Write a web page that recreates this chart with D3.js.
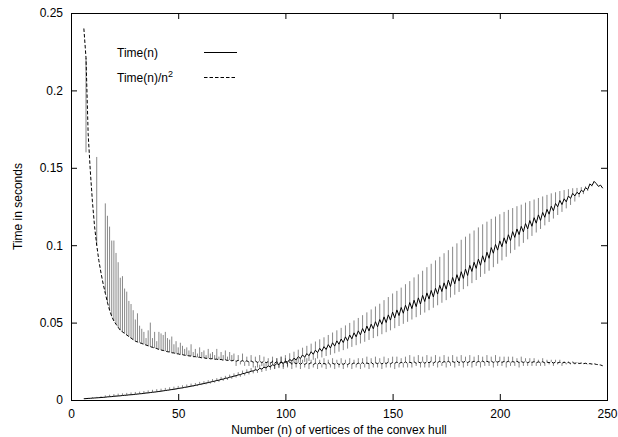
<!DOCTYPE html>
<html>
<head>
<meta charset="utf-8">
<script src="https://cdn.jsdelivr.net/npm/d3@7"></script>
<style>
  body { margin: 0; background: #fff; }
  svg { display: block; font-family: "Liberation Sans", Arial, Helvetica, sans-serif; }
  .axis-title, .legend-text { font-size: 12px; fill: #000; }
</style>
</head>
<body>
<div id="chart"></div>
<script>
// hull sizes run from 6 to 248 vertices, two timing runs per size
const firstN = 6;
const lastN = 248;

// Time(n), seconds, first run (solid curve)
const timeRun1 = [
  // n = 6..15
  0.0008, 0.0009, 0.0010, 0.0011, 0.0012, 0.0013, 0.0014, 0.0015, 0.0016, 0.0017,
  // 16..25
  0.0018, 0.0020, 0.0021, 0.0022, 0.0024, 0.0025, 0.0026, 0.0027, 0.0029, 0.0030,
  // 26..35
  0.0031, 0.0033, 0.0034, 0.0035, 0.0037, 0.0038, 0.0040, 0.0041, 0.0043, 0.0045,
  // 36..45
  0.0046, 0.0048, 0.0050, 0.0051, 0.0053, 0.0055, 0.0057, 0.0059, 0.0061, 0.0063,
  // 46..55
  0.0065, 0.0068, 0.0069, 0.0072, 0.0074, 0.0077, 0.0078, 0.0082, 0.0083, 0.0087,
  // 56..65
  0.0089, 0.0092, 0.0094, 0.0098, 0.0100, 0.0104, 0.0106, 0.0110, 0.0112, 0.0116,
  // 66..75
  0.0119, 0.0122, 0.0126, 0.0128, 0.0133, 0.0135, 0.0140, 0.0142, 0.0147, 0.0150,
  // 76..85
  0.0154, 0.0157, 0.0162, 0.0164, 0.0170, 0.0172, 0.0178, 0.0180, 0.0186, 0.0188,
  // 86..95
  0.0195, 0.0192, 0.0204, 0.0200, 0.0212, 0.0207, 0.0220, 0.0214, 0.0228, 0.0222,
  // 96..105
  0.0236, 0.0228, 0.0245, 0.0236, 0.0252, 0.0244, 0.0262, 0.0252, 0.0270, 0.0259,
  // 106..115
  0.0280, 0.0268, 0.0291, 0.0276, 0.0300, 0.0286, 0.0312, 0.0295, 0.0322, 0.0306,
  // 116..125
  0.0334, 0.0315, 0.0345, 0.0326, 0.0358, 0.0336, 0.0370, 0.0348, 0.0382, 0.0360,
  // 126..135
  0.0394, 0.0371, 0.0408, 0.0382, 0.0420, 0.0395, 0.0434, 0.0408, 0.0447, 0.0421,
  // 136..145
  0.0462, 0.0433, 0.0478, 0.0446, 0.0490, 0.0460, 0.0506, 0.0473, 0.0520, 0.0489,
  // 146..155
  0.0537, 0.0500, 0.0550, 0.0516, 0.0568, 0.0530, 0.0582, 0.0545, 0.0598, 0.0560,
  // 156..165
  0.0612, 0.0575, 0.0630, 0.0590, 0.0645, 0.0603, 0.0660, 0.0620, 0.0676, 0.0636,
  // 166..175
  0.0692, 0.0652, 0.0708, 0.0666, 0.0722, 0.0684, 0.0741, 0.0700, 0.0757, 0.0716,
  // 176..185
  0.0775, 0.0733, 0.0792, 0.0750, 0.0810, 0.0768, 0.0829, 0.0785, 0.0846, 0.0804,
  // 186..195
  0.0870, 0.0830, 0.0890, 0.0850, 0.0910, 0.0870, 0.0932, 0.0890, 0.0955, 0.0915,
  // 196..205
  0.0985, 0.0948, 0.1005, 0.0968, 0.1028, 0.0990, 0.1048, 0.1010, 0.1068, 0.1030,
  // 206..215
  0.1088, 0.1050, 0.1105, 0.1068, 0.1122, 0.1086, 0.1140, 0.1105, 0.1160, 0.1122,
  // 216..225
  0.1178, 0.1142, 0.1196, 0.1160, 0.1212, 0.1180, 0.1232, 0.1200, 0.1252, 0.1222,
  // 226..235
  0.1270, 0.1248, 0.1290, 0.1262, 0.1300, 0.1280, 0.1318, 0.1302, 0.1335, 0.1318,
  // 236..245
  0.1342, 0.1330, 0.1355, 0.1345, 0.1372, 0.1360, 0.1395, 0.1385, 0.1412, 0.1398,
  // 246..248
  0.1380, 0.1388, 0.1368
];

// Time(n), seconds, second run
const timeRun2 = [
  // n = 6..15
  0.0010, 0.0011, 0.0014, 0.0012, 0.0018, 0.0015, 0.0020, 0.0017, 0.0024, 0.0019,
  // 16..25
  0.0030, 0.0023, 0.0034, 0.0026, 0.0038, 0.0028, 0.0041, 0.0031, 0.0043, 0.0034,
  // 26..35
  0.0046, 0.0036, 0.0049, 0.0039, 0.0052, 0.0042, 0.0054, 0.0045, 0.0058, 0.0048,
  // 36..45
  0.0062, 0.0051, 0.0066, 0.0054, 0.0070, 0.0058, 0.0073, 0.0062, 0.0078, 0.0066,
  // 46..55
  0.0082, 0.0063, 0.0086, 0.0068, 0.0091, 0.0073, 0.0095, 0.0078, 0.0100, 0.0082,
  // 56..65
  0.0106, 0.0086, 0.0110, 0.0090, 0.0117, 0.0096, 0.0122, 0.0101, 0.0128, 0.0106,
  // 66..75
  0.0135, 0.0112, 0.0141, 0.0117, 0.0149, 0.0124, 0.0156, 0.0130, 0.0164, 0.0137,
  // 76..85
  0.0172, 0.0145, 0.0180, 0.0150, 0.0190, 0.0158, 0.0198, 0.0165, 0.0207, 0.0172,
  // 86..95
  0.0220, 0.0175, 0.0228, 0.0181, 0.0238, 0.0188, 0.0247, 0.0195, 0.0256, 0.0201,
  // 96..105
  0.0270, 0.0206, 0.0280, 0.0212, 0.0290, 0.0218, 0.0302, 0.0226, 0.0312, 0.0232,
  // 106..115
  0.0325, 0.0238, 0.0338, 0.0246, 0.0350, 0.0252, 0.0364, 0.0260, 0.0378, 0.0268,
  // 116..125
  0.0392, 0.0275, 0.0405, 0.0284, 0.0420, 0.0292, 0.0436, 0.0302, 0.0450, 0.0312,
  // 126..135
  0.0466, 0.0322, 0.0482, 0.0332, 0.0498, 0.0343, 0.0514, 0.0354, 0.0530, 0.0365,
  // 136..145
  0.0548, 0.0376, 0.0566, 0.0388, 0.0585, 0.0400, 0.0604, 0.0412, 0.0622, 0.0425,
  // 146..155
  0.0645, 0.0438, 0.0665, 0.0450, 0.0688, 0.0464, 0.0705, 0.0478, 0.0726, 0.0492,
  // 156..165
  0.0748, 0.0505, 0.0768, 0.0520, 0.0792, 0.0535, 0.0812, 0.0550, 0.0835, 0.0565,
  // 166..175
  0.0858, 0.0580, 0.0880, 0.0596, 0.0902, 0.0612, 0.0925, 0.0628, 0.0948, 0.0645,
  // 176..185
  0.0968, 0.0662, 0.0990, 0.0680, 0.1012, 0.0698, 0.1035, 0.0716, 0.1055, 0.0735,
  // 186..195
  0.1075, 0.0755, 0.1095, 0.0775, 0.1115, 0.0795, 0.1135, 0.0815, 0.1152, 0.0835,
  // 196..205
  0.1170, 0.0858, 0.1185, 0.0880, 0.1200, 0.0902, 0.1215, 0.0925, 0.1228, 0.0948,
  // 206..215
  0.1240, 0.0970, 0.1252, 0.0992, 0.1262, 0.1015, 0.1275, 0.1038, 0.1285, 0.1060,
  // 216..225
  0.1295, 0.1082, 0.1305, 0.1105, 0.1315, 0.1128, 0.1325, 0.1150, 0.1335, 0.1172,
  // 226..235
  0.1342, 0.1195, 0.1350, 0.1215, 0.1356, 0.1238, 0.1362, 0.1260, 0.1368, 0.1282,
  // 236..245
  0.1370, 0.1310, 0.1375, 0.1330, 0.1380, 0.1350, 0.1398, 0.1380, 0.1415, 0.1398,
  // 246..248
  0.1380, 0.1388, 0.1368
];

// Time(n)/n^2 (scaled), first run (dashed curve)
const normRun1 = [
  // n = 6..15
  0.240, 0.221, 0.172, 0.148, 0.128, 0.112, 0.100, 0.090, 0.082, 0.075,
  // 16..25
  0.069, 0.063, 0.058, 0.054, 0.051, 0.049, 0.047, 0.045, 0.044, 0.043,
  // 26..35
  0.042, 0.041, 0.040, 0.039, 0.038, 0.0375, 0.037, 0.0365, 0.036, 0.0355,
  // 36..45
  0.0350, 0.0345, 0.0340, 0.0336, 0.0332, 0.0327, 0.0323, 0.0320, 0.0316, 0.0312,
  // 46..55
  0.0310, 0.0305, 0.0304, 0.0299, 0.0298, 0.0294, 0.0293, 0.0289, 0.0288, 0.0285,
  // 56..65
  0.0284, 0.0280, 0.0280, 0.0276, 0.0276, 0.0272, 0.0273, 0.0269, 0.0270, 0.0266,
  // 66..75
  0.0267, 0.0263, 0.0264, 0.0260, 0.0262, 0.0257, 0.0260, 0.0255, 0.0258, 0.0253,
  // 76..85
  0.0257, 0.0250, 0.0256, 0.0249, 0.0254, 0.0247, 0.0253, 0.0246, 0.0252, 0.0244,
  // 86..95
  0.0251, 0.0243, 0.0250, 0.0242, 0.0249, 0.0241, 0.0248, 0.0240, 0.0247, 0.0239,
  // 96..105
  0.0246, 0.0238, 0.0245, 0.0237, 0.0244, 0.0236, 0.0243, 0.0236, 0.0242, 0.0235,
  // 106..115
  0.0241, 0.0232, 0.0240, 0.0230, 0.0238, 0.0233, 0.0241, 0.0229, 0.0237, 0.0232,
  // 116..125
  0.0239, 0.0230, 0.0236, 0.0231, 0.0240, 0.0228, 0.0237, 0.0232, 0.0239, 0.0229,
  // 126..135
  0.0236, 0.0231, 0.0238, 0.0229, 0.0237, 0.0232, 0.0240, 0.0230, 0.0238, 0.0233,
  // 136..145
  0.0241, 0.0231, 0.0239, 0.0234, 0.0242, 0.0232, 0.0240, 0.0235, 0.0243, 0.0233,
  // 146..155
  0.0241, 0.0236, 0.0244, 0.0234, 0.0242, 0.0237, 0.0245, 0.0235, 0.0243, 0.0238,
  // 156..165
  0.0246, 0.0236, 0.0244, 0.0239, 0.0247, 0.0237, 0.0245, 0.0240, 0.0248, 0.0238,
  // 166..175
  0.0246, 0.0241, 0.0249, 0.0239, 0.0247, 0.0242, 0.0250, 0.0240, 0.0248, 0.0243,
  // 176..185
  0.0250, 0.0241, 0.0248, 0.0243, 0.0251, 0.0242, 0.0249, 0.0244, 0.0251, 0.0242,
  // 186..195
  0.0249, 0.0244, 0.0251, 0.0242, 0.0249, 0.0245, 0.0251, 0.0243, 0.0250, 0.0244,
  // 196..205
  0.0251, 0.0243, 0.0249, 0.0245, 0.0251, 0.0243, 0.0249, 0.0244, 0.0250, 0.0242,
  // 206..215
  0.0248, 0.0244, 0.0250, 0.0242, 0.0248, 0.0243, 0.0249, 0.0241, 0.0247, 0.0243,
  // 216..225
  0.0248, 0.0241, 0.0246, 0.0242, 0.0247, 0.0240, 0.0245, 0.0241, 0.0246, 0.0239,
  // 226..235
  0.0244, 0.0240, 0.0244, 0.0238, 0.0243, 0.0239, 0.0242, 0.0237, 0.0241, 0.0237,
  // 236..245
  0.0240, 0.0236, 0.0238, 0.0235, 0.0237, 0.0233, 0.0235, 0.0232, 0.0234, 0.0230,
  // 246..248
  0.0228, 0.0226, 0.0221
];

// Time(n)/n^2 (scaled), second run
const normRun2 = [
  // n = 6..15
  0.240, 0.160, 0.172, 0.148, 0.128, 0.112, 0.157, 0.090, 0.082, 0.075,
  // 16..25
  0.127, 0.119, 0.112, 0.103, 0.103, 0.095, 0.089, 0.079, 0.080, 0.072,
  // 26..35
  0.070, 0.064, 0.062, 0.058, 0.052, 0.056, 0.048, 0.046, 0.044, 0.040,
  // 36..45
  0.045, 0.050, 0.040, 0.044, 0.038, 0.044, 0.043, 0.042, 0.044, 0.040,
  // 46..55
  0.039, 0.041, 0.036, 0.038, 0.034, 0.037, 0.035, 0.033, 0.034, 0.032,
  // 56..65
  0.036, 0.031, 0.033, 0.030, 0.034, 0.031, 0.032, 0.029, 0.033, 0.030,
  // 66..75
  0.031, 0.029, 0.033, 0.028, 0.031, 0.029, 0.032, 0.028, 0.031, 0.029,
  // 76..85
  0.030, 0.022, 0.029, 0.023, 0.030, 0.022, 0.028, 0.022, 0.029, 0.021,
  // 86..95
  0.028, 0.021, 0.029, 0.022, 0.028, 0.021, 0.027, 0.021, 0.028, 0.020,
  // 96..105
  0.027, 0.021, 0.028, 0.020, 0.027, 0.021, 0.026, 0.020, 0.027, 0.021,
  // 106..115
  0.027, 0.020, 0.026, 0.021, 0.027, 0.020, 0.026, 0.021, 0.027, 0.020,
  // 116..125
  0.026, 0.021, 0.027, 0.020, 0.026, 0.021, 0.027, 0.020, 0.026, 0.021,
  // 126..135
  0.027, 0.020, 0.026, 0.021, 0.027, 0.020, 0.026, 0.021, 0.027, 0.020,
  // 136..145
  0.027, 0.021, 0.028, 0.020, 0.027, 0.021, 0.028, 0.021, 0.027, 0.020,
  // 146..155
  0.028, 0.021, 0.027, 0.021, 0.028, 0.020, 0.028, 0.021, 0.027, 0.021,
  // 156..165
  0.028, 0.021, 0.029, 0.021, 0.028, 0.022, 0.029, 0.021, 0.028, 0.021,
  // 166..175
  0.029, 0.021, 0.028, 0.022, 0.029, 0.021, 0.028, 0.022, 0.029, 0.021,
  // 176..185
  0.028, 0.022, 0.029, 0.021, 0.028, 0.022, 0.029, 0.021, 0.028, 0.022,
  // 186..195
  0.029, 0.021, 0.028, 0.022, 0.029, 0.021, 0.028, 0.022, 0.029, 0.022,
  // 196..205
  0.028, 0.021, 0.029, 0.022, 0.028, 0.022, 0.028, 0.021, 0.028, 0.022,
  // 206..215
  0.028, 0.022, 0.027, 0.021, 0.028, 0.022, 0.027, 0.022, 0.027, 0.022,
  // 216..225
  0.027, 0.022, 0.026, 0.022, 0.027, 0.022, 0.026, 0.023, 0.026, 0.022,
  // 226..235
  0.026, 0.023, 0.026, 0.022, 0.025, 0.023, 0.025, 0.023, 0.025, 0.023,
  // 236..245
  0.0245, 0.0232, 0.0242, 0.0232, 0.0240, 0.0230, 0.0236, 0.0230, 0.0234, 0.0230,
  // 246..248
  0.0228, 0.0226, 0.0221
];

const xTicks = [0, 50, 100, 150, 200, 250];
const yTicks = [0, 0.05, 0.1, 0.15, 0.2, 0.25];
const yTickLabels = ['0', '0.05', '0.1', '0.15', '0.2', '0.25'];

const config = {
  containerWidth: 618,
  containerHeight: 437,
  margin: {top: 13, right: 11, bottom: 37, left: 71},
  tickSize: 6,
  dash: '3.5,2'
};

const width = config.containerWidth - config.margin.left - config.margin.right;
const height = config.containerHeight - config.margin.top - config.margin.bottom;

const sizes = d3.range(firstN, lastN + 1);

const svg = d3.select('#chart').append('svg')
    .attr('width', config.containerWidth)
    .attr('height', config.containerHeight);

const chart = svg.append('g')
    .attr('transform', `translate(${config.margin.left},${config.margin.top})`);

const xScale = d3.scaleLinear().domain([0, 250]).range([0, width]);
const yScale = d3.scaleLinear().domain([0, 0.25]).range([height, 0]);

// gnuplot style: ticks point inward and are mirrored on the opposite side
const xAxis = d3.axisBottom(xScale).tickValues(xTicks).tickSize(-config.tickSize).tickPadding(9).tickFormat(d3.format('d'));
const xAxisTop = d3.axisTop(xScale).tickValues(xTicks).tickSize(-config.tickSize).tickFormat('');
const yAxis = d3.axisLeft(yScale).tickValues(yTicks).tickSize(-config.tickSize).tickPadding(8)
    .tickFormat((d, i) => yTickLabels[i]);
const yAxisRight = d3.axisRight(yScale).tickValues(yTicks).tickSize(-config.tickSize).tickFormat('');

chart.append('g').attr('transform', `translate(0,${height})`).call(xAxis);
chart.append('g').call(xAxisTop);
chart.append('g').call(yAxis);
chart.append('g').attr('transform', `translate(${width},0)`).call(yAxisRight);

chart.selectAll('.domain').remove();
chart.selectAll('.tick line').attr('stroke', '#000');
chart.selectAll('.tick text')
    .attr('fill', '#000')
    .style('font-size', '12px')
    .style('font-family', '"Liberation Sans", Arial, sans-serif');

// frame
chart.append('rect')
    .attr('x', 0.5)
    .attr('y', 0.5)
    .attr('width', width)
    .attr('height', height)
    .attr('fill', 'none')
    .attr('stroke', '#000')
    .attr('stroke-width', 1);

const line = d3.line()
    .x((d, i) => xScale(sizes[i]))
    .y(d => yScale(d));

// draws one series: the curve through run 1, plus a vertical stroke to run 2 at each n
function drawSeries(run1, run2, dash) {
  const g = chart.append('g');

  // thin strokes come out grey, like the antialiased spikes in the original
  g.selectAll('.spike')
      .data(sizes)
    .join('line')
      .attr('class', 'spike')
      .attr('x1', d => xScale(d))
      .attr('x2', d => xScale(d))
      .attr('y1', (d, i) => yScale(run1[i]))
      .attr('y2', (d, i) => yScale(run2[i]))
      .attr('stroke', '#000')
      .attr('stroke-opacity', 0.6)
      .attr('stroke-width', 0.8);

  g.append('path')
      .datum(run1)
      .attr('fill', 'none')
      .attr('stroke', '#000')
      .attr('stroke-width', 1)
      .attr('stroke-dasharray', dash)
      .attr('d', line);
}

drawSeries(timeRun1, timeRun2, null);
drawSeries(normRun1, normRun2, config.dash);

// legend
const legend = svg.append('g');

legend.append('text')
    .attr('class', 'legend-text')
    .attr('x', 117)
    .attr('y', 57)
    .text('Time(n)');

legend.append('line')
    .attr('x1', 204).attr('x2', 237)
    .attr('y1', 52.5).attr('y2', 52.5)
    .attr('stroke', '#000');

const label2 = legend.append('text')
    .attr('class', 'legend-text')
    .attr('x', 117)
    .attr('y', 82)
    .text('Time(n)/n');
label2.append('tspan')
    .attr('dy', -5)
    .style('font-size', '9px')
    .text('2');

legend.append('line')
    .attr('x1', 204).attr('x2', 237)
    .attr('y1', 77.5).attr('y2', 77.5)
    .attr('stroke', '#000')
    .attr('stroke-dasharray', config.dash);

// axis titles
svg.append('text')
    .attr('class', 'axis-title')
    .attr('text-anchor', 'middle')
    .attr('x', config.margin.left + width / 2)
    .attr('y', 434)
    .text('Number (n) of vertices of the convex hull');

svg.append('text')
    .attr('class', 'axis-title')
    .attr('text-anchor', 'middle')
    .attr('transform', `translate(22,${config.margin.top + height / 2}) rotate(-90)`)
    .text('Time in seconds');
</script>
</body>
</html>
